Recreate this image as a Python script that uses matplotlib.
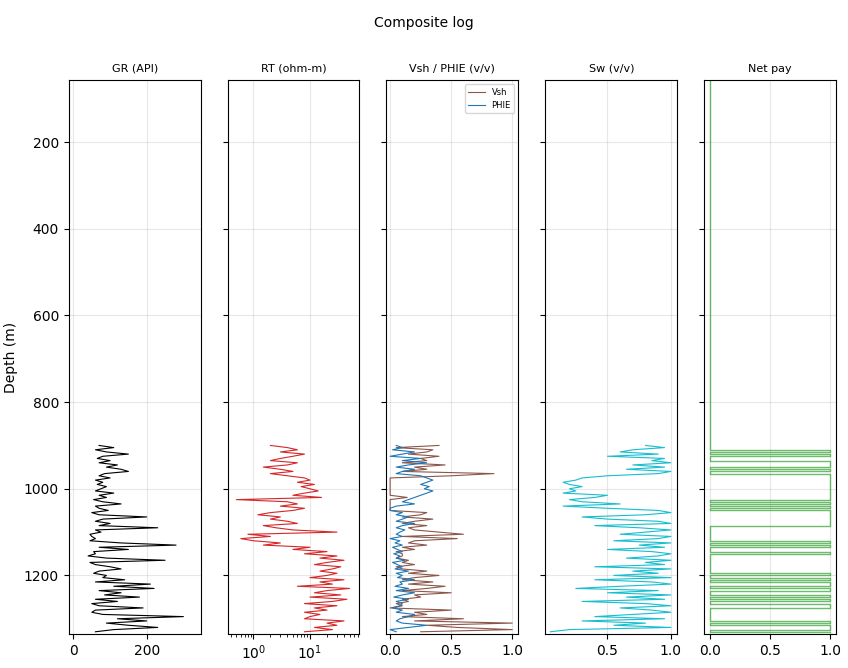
import numpy as np
import matplotlib
matplotlib.use("Agg")
import matplotlib.pyplot as plt

depth = np.arange(900, 1335, 5)
gr = [70,110,60,90,150,80,65,100,70,120,90,130,150,85,70,100,60,80,65,90,75,
      60,110,70,90,55,80,130,60,70,95,50,70,200,80,60,100,70,230,60,75,
      45,50,60,45,130,280,70,150,55,60,40,90,250,45,60,100,130,70,55,90,
      80,140,60,210,110,220,70,130,85,180,60,120,50,70,190,60,50,80,300,120,
      200,90,150,230,110,60]
rt = [2,4,6,3,8,5,3,2,6,4,1.5,3,5,2,4,8,10,6,12,7,10,
      14,8,5,16,0.5,4,6,3,8,5,2,1.2,3,2,4,6,1.5,2.5,5,30,
      0.8,2,0.6,1,3,1.5,10,5,20,8,30,15,40,20,12,35,25,15,30,20,
      10,40,15,25,6,50,20,12,35,10,45,25,8,30,12,20,8,15,10,8,
      40,20,30,12,25,8]
vsh = [0.4,0.05,0.35,0.3,0.15,0.4,0.25,0.3,0.1,0.45,0.2,0.3,0.1,0.85,0.5,0.0,0.0,0.0,0.0,0.0,0.0,
       0.0,0.0,0.0,0.14,0.0,0.0,0.0,0.0,0.0,0.0,0.3,0.25,0.1,0.35,0.2,0.1,0.3,0.15,0.2,0.4,
       0.6,0.1,0.55,0.2,0.15,0.3,0.1,0.2,0.05,0.1,0.1,0.05,0.15,0.1,0.2,0.05,0.1,0.3,0.15,0.4,
       0.2,0.1,0.35,0.15,0.45,0.3,0.1,0.5,0.2,0.25,0.1,0.15,0.05,0.1,0.0,0.5,0.2,0.3,0.1,0.6,
       0.2,1.0,0.3,0.55,1.0,0.25]
phie = [0.05,0.1,0.02,0.2,0.1,0.0,0.25,0.1,0.3,0.15,0.05,0.2,0.1,0.05,0.25,0.3,0.35,0.3,0.25,0.32,0.28,
        0.35,0.3,0.25,0.2,0.15,0.1,0.2,0.05,0.0,0.0,0.1,0.05,0.15,0.1,0.05,0.2,0.1,0.05,0.12,0.08,
        0.05,0.1,0.0,0.08,0.04,0.1,0.02,0.06,0.1,0.03,0.08,0.05,0.12,0.02,0.06,0.1,0.04,0.15,0.05,0.1,
        0.06,0.2,0.08,0.1,0.04,0.15,0.05,0.2,0.1,0.03,0.15,0.05,0.1,0.08,0.02,0.1,0.05,0.2,0.15,0.08,
        0.05,0.1,0.3,0.15,0.0,0.05]
sw = [0.8,0.95,0.7,0.6,0.9,0.5,0.95,0.85,1.0,0.7,0.95,0.65,1.0,0.9,0.5,0.3,0.25,0.15,0.2,0.3,0.2,
      0.25,0.15,0.5,0.4,0.2,0.3,0.6,0.15,0.5,0.9,1.0,0.8,0.3,0.5,0.9,1.0,0.4,0.75,1.0,0.8,
      0.6,1.0,0.9,0.55,1.0,0.75,0.95,0.5,0.85,1.0,0.9,0.65,1.0,0.8,0.95,0.4,1.0,0.7,0.9,0.55,
      1.0,0.4,0.85,1.0,0.6,0.25,0.9,0.5,1.0,0.65,0.95,0.3,0.8,1.0,0.6,0.85,1.0,0.7,0.4,0.95,
      0.3,0.8,0.55,1.0,0.2,0.05]
net_depth = [60] + list(depth)
net = [0] + [0,0,1,0,1,0,0,1,1,1,0,1,0,1,1,1,1,1,1,1,1,
             1,1,1,1,0,1,0,1,0,1,1,1,1,1,1,1,0,0,0,0,
             0,0,0,1,0,1,0,0,1,0,0,0,0,0,0,0,0,0,1,0,
             1,0,1,1,0,1,0,0,1,0,1,0,1,1,0,0,0,0,0,0,
             1,0,1,1,0,1]

fig, axes = plt.subplots(1, 5, figsize=(8.48, 6.68), dpi=100, sharey=True)
fig.subplots_adjust(left=0.081, right=0.986, top=0.880, bottom=0.051, wspace=0.2045)
fig.suptitle("Composite log", fontsize=10, y=0.976)

ax = axes[0]
ax.plot(gr, depth, color="black", lw=0.8)
ax.set_title("GR (API)", fontsize=8)
ax.set_xlim(-13, 347)
ax = axes[1]
ax.plot(rt, depth, color="tab:red", lw=0.8)
ax.set_xscale("log")
ax.set_xlim(0.35, 75)
ax.set_title("RT (ohm-m)", fontsize=8)
ax = axes[2]
ax.plot(vsh, depth, color="tab:brown", lw=0.8, label="Vsh")
ax.plot(phie, depth, color="tab:blue", lw=0.8, label="PHIE")
ax.set_xlim(-0.03, 1.05)
ax.set_title("Vsh / PHIE (v/v)", fontsize=8)
ax.legend(fontsize=6, loc="upper right")
ax = axes[3]
ax.plot(sw, depth, color="tab:cyan", lw=0.8)
ax.set_xlim(0.01, 1.05)
ax.set_title("Sw (v/v)", fontsize=8)
ax = axes[4]
ax.step(net, net_depth, color="tab:green", lw=1, alpha=0.7, where="pre")
ax.set_xlim(-0.05, 1.05)
ax.set_title("Net pay", fontsize=8)

for a in axes:
    a.grid(True, alpha=0.3)
axes[0].set_ylim(1335, 57)
axes[0].set_ylabel("Depth (m)")
fig.savefig("out.png")
